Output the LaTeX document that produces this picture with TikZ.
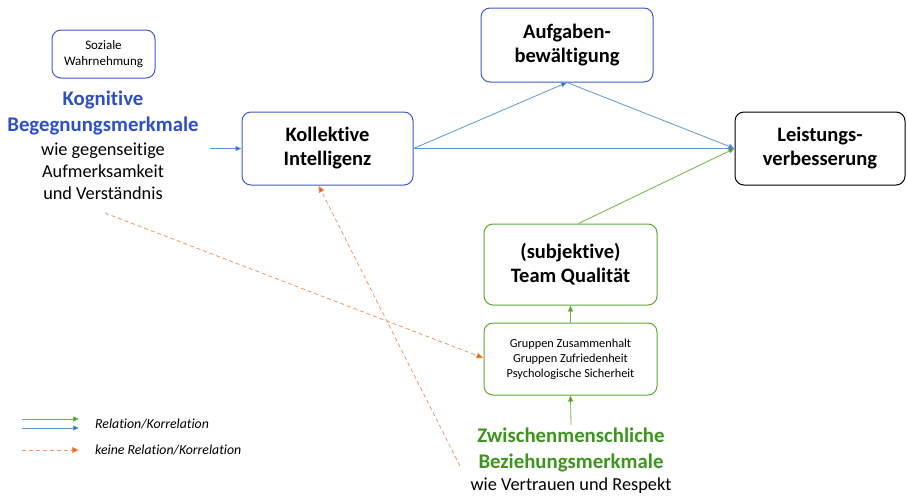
\documentclass[tikz,border=0pt]{standalone}
\usepackage{fontspec}
\setmainfont{Carlito}[Ligatures=CommonOff]
\usetikzlibrary{arrows.meta}
\definecolor{boxblue}{RGB}{60,90,210}
\definecolor{lineblue}{RGB}{91,155,213}
\definecolor{tipblue}{RGB}{40,80,190}
\definecolor{kblue}{RGB}{45,80,200}
\definecolor{lgreen}{RGB}{112,180,70}
\definecolor{tgreen}{RGB}{60,150,30}
\definecolor{boxgreen}{RGB}{90,170,50}
\definecolor{lorange}{RGB}{244,150,90}
\definecolor{tiporange}{RGB}{235,85,30}
\tikzset{
  x=1pt,y=-1pt,
  rbox/.style={draw,rounded corners=9pt,line width=1pt,align=center,inner sep=0pt},
  bigtxt/.style={font=\fontsize{20.5}{24}\selectfont\bfseries},
  smalltxt/.style={font=\fontsize{12.3}{15}\selectfont},
  headtxt/.style={align=center,inner sep=0pt,anchor=north,font=\fontsize{20.8}{26}\selectfont\bfseries},
  subtxt/.style={align=center,inner sep=0pt,anchor=north,font=\fontsize{18.3}{22}\selectfont},
  blueline/.style={draw=lineblue,line width=0.8pt,-{Triangle[length=6pt,width=5pt,fill=tipblue]}},
  greenline/.style={draw=lgreen,line width=0.8pt,-{Triangle[length=6pt,width=5pt,fill=tgreen]}},
  orangeline/.style={draw=lorange,line width=0.8pt,dash pattern=on 4pt off 3pt,-{Triangle[length=7pt,width=6pt,fill=tiporange]}},
}
\begin{document}
\begin{tikzpicture}
\useasboundingbox (0,0) rectangle (907,501);
% boxes
\node[rbox,draw=boxblue,minimum width=103pt,minimum height=48pt,font=\fontsize{13}{16}\selectfont] (sw) at (103.5,54) {Soziale\\Wahrnehmung};
\node[rbox,draw=boxblue,minimum width=171pt,minimum height=73pt,bigtxt] (ki) at (327.5,148.5) {Kollektive\\Intelligenz};
\node[rbox,draw=boxblue,minimum width=172pt,minimum height=74pt,bigtxt] (ab) at (567,45) {Aufgaben-\\bewältigung};
\node[rbox,draw=black,minimum width=170pt,minimum height=73pt,bigtxt] (lv) at (820,148.5) {Leistungs-\\verbesserung};
\node[rbox,draw=boxgreen,minimum width=173pt,minimum height=81pt,bigtxt] (tq) at (570.5,264.5) {(subjektive)\\Team Qualität};
\node[rbox,draw=boxgreen,minimum width=173pt,minimum height=72pt,smalltxt] (gz) at (570.5,359) {Gruppen Zusammenhalt\\Gruppen Zufriedenheit\\Psychologische Sicherheit};
% left text
\node[headtxt,text=kblue] (kh) at (103,91) {Kognitive\\Begegnungsmerkmale};
\node[subtxt] (ks) at (103,143) {wie gegenseitige\\Aufmerksamkeit\\und Verständnis};
% bottom text
\node[headtxt,text=tgreen] (zh) at (571,428) {Zwischenmenschliche\\Beziehungsmerkmale};
\node[subtxt] (zs) at (571,478) {wie Vertrauen und Respekt};
% coordinates
\coordinate (kin) at (210,148.5);
\coordinate (ostart) at (105,213);
\coordinate (o2start) at (460,466);
\coordinate (zt) at (571,425);
% arrows
\draw[blueline] (kin) -- (ki.west);
\draw[blueline] (ki.east) -- (ab.south);
\draw[blueline] (ab.south) -- (lv.west);
\draw[blueline] (ki.east) -- (lv.west);
\draw[greenline] ([xshift=8pt]tq.north) -- (lv.west);
\draw[greenline] (gz.north) -- (tq.south);
\draw[greenline] (zt) -- (gz.south);
\draw[orangeline] (ostart) -- ([yshift=1pt]gz.west);
\draw[orangeline] (o2start) -- ([xshift=-9pt]ki.south);
% legend
\coordinate (l1a) at (22,419); \coordinate (l1b) at (79,419);
\coordinate (l2a) at (22,428); \coordinate (l2b) at (79,428);
\coordinate (l3a) at (22,450); \coordinate (l3b) at (79,450);
\draw[greenline] (l1a) -- (l1b);
\draw[blueline] (l2a) -- (l2b);
\draw[orangeline] (l3a) -- (l3b);
\node[anchor=west,inner sep=0pt,font=\fontsize{13.8}{16}\selectfont\itshape] (lt1) at (95,424) {Relation/Korrelation};
\node[anchor=west,inner sep=0pt,font=\fontsize{13.8}{16}\selectfont\itshape] (lt2) at (95,450) {keine Relation/Korrelation};
\end{tikzpicture}
\end{document}
